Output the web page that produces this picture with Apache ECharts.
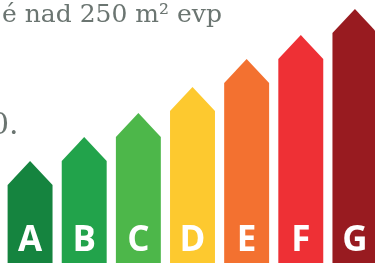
<!DOCTYPE html>
<html>
<head>
<meta charset="utf-8">
<script src="https://cdn.jsdelivr.net/npm/echarts@6/dist/echarts.min.js"></script>
<style>
  html, body { margin: 0; padding: 0; background: #fff; }
  #main { width: 375px; height: 263px; }
</style>
</head>
<body>
<div id="main"></div>
<script>
// energy classes and their bar heights (shoulder height, px-like units)
var classes = ['A', 'B', 'C', 'D', 'E', 'F', 'G'];
var heights = [78, 102, 126, 152, 180, 204, 230];
var colors = ['#15843f', '#22a34b', '#4db74a', '#fdc92f', '#f37130', '#ee3035', '#981b20'];

var myChart = echarts.init(document.getElementById('main'));

var option = {
    animation: false,
    grid: { left: 3, width: 379, top: 0, bottom: 0, outerBoundsMode: 'none' },
    xAxis: {
        type: 'category',
        data: classes,
        show: false
    },
    yAxis: {
        type: 'value',
        min: 0,
        max: 263,
        show: false
    },
    graphic: [
        {
            type: 'text',
            left: 2,
            top: 3,
            style: {
                text: 'é nad 250 m² evp',
                font: '300 25px "DejaVu Serif"',
                fill: '#6b7571'
            }
        },
        {
            type: 'text',
            left: -10,
            top: 111,
            style: {
                text: '0.',
                font: '300 30px "DejaVu Serif"',
                fill: '#6b7571'
            }
        }
    ],
    series: [
        {
            type: 'custom',
            data: heights.map(function (h, i) { return [i, h]; }),
            renderItem: function (params, api) {
                var i = api.value(0);
                var top = api.coord([i, api.value(1)]);
                var base = api.coord([i, 0]);
                var w = api.size([1, 0])[0] * 0.83;
                var x0 = top[0] - w / 2, x1 = top[0] + w / 2;
                var roof = w / 2 * 1.07;
                return {
                    type: 'group',
                    children: [
                        {
                            type: 'polygon',
                            shape: {
                                points: [
                                    [x0, base[1]], [x0, top[1]], [top[0], top[1] - roof],
                                    [x1, top[1]], [x1, base[1]]
                                ]
                            },
                            style: { fill: colors[params.dataIndex] }
                        },
                        {
                            type: 'text',
                            x: top[0],
                            y: base[1] - 4,
                            style: {
                                text: classes[params.dataIndex],
                                font: 'bold 35px "Open Sans"',
                                fill: '#fff',
                                align: 'center',
                                verticalAlign: 'bottom'
                            }
                        }
                    ]
                };
            }
        }
    ]
};

myChart.setOption(option);
</script>
</body>
</html>
